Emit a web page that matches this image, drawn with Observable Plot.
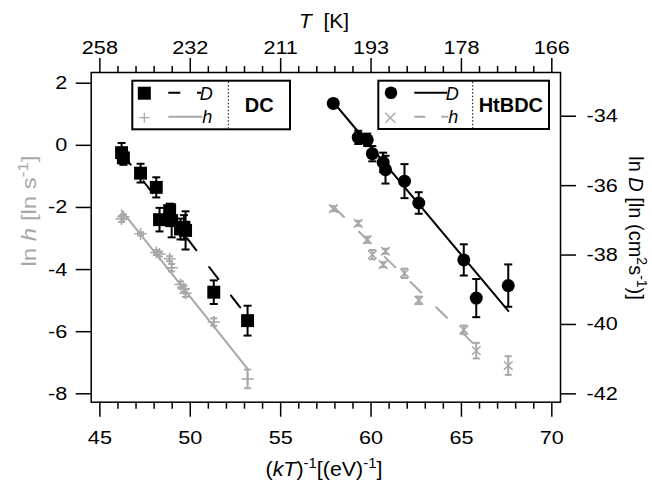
<!DOCTYPE html>
<html><head><meta charset="utf-8">
<script src="https://cdn.jsdelivr.net/npm/d3@7"></script>
<script src="https://cdn.jsdelivr.net/npm/@observablehq/plot@0.6"></script>
<style>
body{margin:0;background:#fff;}
#chart{position:relative;width:652px;height:480px;}
</style>
</head><body><div id="chart"></div>
<script>
// ---- tick values / labels ----
const xTicks = [45, 50, 55, 60, 65, 70];
const xMinor = [46,47,48,49,51,52,53,54,56,57,58,59,61,62,63,64,66,67,68,69];
const topTickLabels = ["258", "232", "211", "193", "178", "166"];
const hTicks = [2, 0, -2, -4, -6, -8];
const dTicks = [-34, -36, -38, -40, -42];

// ---- DC series ----
const dcX      = [46.2, 46.3, 47.25, 48.12, 48.3, 48.86, 48.97, 49.46, 49.65, 49.74, 51.3, 53.17];
const dcLnD    = [-35.05, -35.2, -35.64, -36.05, -36.98, -36.72, -37.01, -37.25, -37.2, -37.29, -39.07, -39.89];
const dcLnDErr = [0.28, 0.2, 0.27, 0.29, 0.34, 0.2, 0.48, 0.3, 0.35, 0.55, 0.34, 0.43];
const dcLnH    = [-2.37, -2.3, -2.85, -3.45, -3.5, -3.65, -3.94, -4.48, -4.62, -4.76, -5.69, -7.52];
const dcLnHErr = [0.1, 0.08, 0.05, 0.08, 0.08, 0.08, 0.12, 0.1, 0.1, 0.12, 0.12, 0.3];
const dcFitX   = [46.2, 53.17];
const dcFitD   = [-35.05, -39.79];
const dcFitH   = [-2.10, -7.2];

// ---- HtBDC series ----
const htX      = [57.91, 59.29, 59.79, 60.07, 60.67, 60.8, 61.85, 62.64, 65.13, 65.82, 67.59];
const htLnD    = [-33.63, -34.61, -34.68, -35.08, -35.33, -35.54, -35.87, -36.5, -38.14, -39.24, -38.88];
const htLnDErr = [0.12, 0.19, 0.18, 0.22, 0.28, 0.4, 0.49, 0.31, 0.45, 0.55, 0.61];
const htLnH    = [-2.04, -2.51, -3.04, -3.52, -3.84, -3.41, -4.12, -4.99, -5.94, -6.61, -7.09];
const htLnHErr = [0.08, 0.08, 0.1, 0.15, 0.08, 0.08, 0.15, 0.12, 0.14, 0.25, 0.3];
const htFitX   = [57.91, 67.59];
const htFitD   = [-33.59, -39.61];
const htFitHX  = [57.91, 66.45];
const htFitH   = [-1.97, -6.83];

// ---- scales ----
const hDomain = [-8.27, 2.345];
const dDomain = [-42.24, -32.74];
const k = (hDomain[1] - hDomain[0]) / (dDomain[1] - dDomain[0]);
const toY = D => hDomain[0] + (D - dDomain[0]) * k;
const fromY = y => dDomain[0] + (y - hDomain[0]) / k;

const GRAY = "#a8a8a8";
const FONT = "'Liberation Sans', Arial, sans-serif";
const capSymbol = { draw(ctx, size) { const r = Math.sqrt(size / Math.PI); ctx.moveTo(-r, 0); ctx.lineTo(r, 0); } };

const dc = dcX.map((x, i) => ({x, D: dcLnD[i], dE: dcLnDErr[i], h: dcLnH[i], hE: dcLnHErr[i]}));
const ht = htX.map((x, i) => ({x, D: htLnD[i], dE: htLnDErr[i], h: htLnH[i], hE: htLnHErr[i]}));
const dcFitDRows = dcFitX.map((x, i) => ({x, y: toY(dcFitD[i])}));
const dcFitHRows = dcFitX.map((x, i) => ({x, y: dcFitH[i]}));
const htFitDRows = htFitX.map((x, i) => ({x, y: toY(htFitD[i])}));
const htFitHRows = htFitHX.map((x, i) => ({x, y: htFitH[i]}));

function errMarks(data, val, err, color, capR, sw) {
  return [
    Plot.ruleX(data, {x: "x", y1: d => val(d) - err(d), y2: d => val(d) + err(d), stroke: color, strokeWidth: sw}),
    Plot.dot(data, {x: "x", y: d => val(d) - err(d), symbol: capSymbol, r: capR, stroke: color, strokeWidth: sw}),
    Plot.dot(data, {x: "x", y: d => val(d) + err(d), symbol: capSymbol, r: capR, stroke: color, strokeWidth: sw})
  ];
}

const chart = Plot.plot({
  width: 652, height: 480,
  marginLeft: 90.7, marginRight: 92, marginTop: 72, marginBottom: 78.3,
  style: {fontFamily: FONT, fontSize: "18.5px", color: "black", background: "white", overflow: "visible"},
  x: {domain: [44.52, 70.48]},
  y: {domain: hDomain},
  marks: [
    // h (gray) series
    Plot.line(dcFitHRows, {x: "x", y: "y", stroke: GRAY, strokeWidth: 2}),
    Plot.line(htFitHRows, {x: "x", y: "y", stroke: GRAY, strokeWidth: 2, strokeDasharray: "15,21"}),
    ...errMarks(dc, d => d.h, d => d.hE, GRAY, 3.5, 2),
    ...errMarks(ht, d => d.h, d => d.hE, GRAY, 3.5, 2),
    Plot.dot(dc, {x: "x", y: "h", symbol: "plus", r: 4, stroke: GRAY, strokeWidth: 1.5}),
    Plot.dot(ht, {x: "x", y: "h", symbol: "times", r: 4, stroke: GRAY, strokeWidth: 1.5}),
    // D (black) series
    Plot.line(dcFitDRows, {x: "x", y: "y", stroke: "black", strokeWidth: 2, strokeDasharray: "15,21"}),
    Plot.line(htFitDRows, {x: "x", y: "y", stroke: "black", strokeWidth: 2}),
    ...errMarks(dc, d => toY(d.D), d => d.dE * k, "black", 4, 2),
    ...errMarks(ht, d => toY(d.D), d => d.dE * k, "black", 4, 2),
    Plot.dot(dc, {x: "x", y: d => toY(d.D), symbol: "square", r: 7.3, fill: "black"}),
    Plot.dot(ht, {x: "x", y: d => toY(d.D), symbol: "circle", r: 6.5, fill: "black"}),
    // axes
    Plot.axisX(xTicks, {anchor: "bottom", tickSize: 15, tickPadding: 14, tickFormat: d => String(d), label: null, strokeWidth: 1.5}),
    Plot.axisX(xMinor, {anchor: "bottom", tickSize: 7, tickFormat: () => "", label: null, strokeWidth: 1.5}),
    Plot.axisX(xTicks, {anchor: "top", tickSize: 15, tickPadding: 4, tickFormat: d => topTickLabels[xTicks.indexOf(d)], label: null, strokeWidth: 1.5}),
    Plot.axisX(xMinor, {anchor: "top", tickSize: 7, tickFormat: () => "", label: null, strokeWidth: 1.5}),
    Plot.axisY(hTicks, {anchor: "left", tickSize: 15, tickPadding: 9, tickFormat: d => String(d), label: null, strokeWidth: 1.5}),
    Plot.axisY(dTicks.map(toY), {anchor: "right", tickSize: 15, tickPadding: 11, tickFormat: v => String(Math.round(fromY(v))), label: null, strokeWidth: 1.5}),
    Plot.frame({stroke: "black", strokeWidth: 1.5})
  ]
});
document.getElementById("chart").appendChild(chart);

// ---- widen tick labels (reference font is wide) ----
const svg = d3.select(chart);
svg.selectAll('g[aria-label*="tick label"] text').each(function () {
  const t = this.getAttribute("transform");
  if (t) this.setAttribute("transform", t + " scale(1.17,1)");
  else {
    const x = +this.getAttribute("x") || 0, y = +this.getAttribute("y") || 0;
    this.setAttribute("x", 0); this.setAttribute("y", 0);
    this.setAttribute("transform", `translate(${x},${y}) scale(1.17,1)`);
  }
});

// ---- titles and legends ----
function addText(g, parts, attrs) {
  const t = g.append("text").attr("font-family", FONT).attr("font-size", 17).style("white-space", "pre");
  Object.entries(attrs).forEach(([k, v]) => t.attr(k, v));
  parts.forEach(p => {
    const s = t.append("tspan").text(p.t);
    if (p.i) s.attr("font-style", "italic");
    if (p.b) s.attr("font-weight", "bold");
    if (p.dy) s.attr("dy", p.dy);
    if (p.fs) s.attr("font-size", p.fs);
  });
  return t;
}

// top title
addText(svg, [{t: "T", i: 1}, {t: "  [K]"}], {transform: "translate(324,28) scale(1.05,1)", "text-anchor": "middle", "font-size": 20});
// bottom title
addText(svg, [{t: "("}, {t: "kT", i: 1}, {t: ")"}, {t: "-1", fs: 14, dy: -8}, {t: "[(eV)", dy: 8}, {t: "-1", fs: 14, dy: -8}, {t: "]", dy: 8}],
  {transform: "translate(324,476) scale(1.07,1)", "text-anchor": "middle", "font-size": 20});
// left title (gray)
addText(svg, [{t: "ln "}, {t: "h", i: 1}, {t: " [ln s"}, {t: "-1", fs: 14, dy: -8}, {t: "]", dy: 8}],
  {transform: "translate(36,211) rotate(-90) scale(1.2,1)", "text-anchor": "middle", fill: GRAY, "font-size": 20});
// right title
addText(svg, [{t: "ln "}, {t: "D", i: 1}, {t: " [ln (cm"}, {t: "2", fs: 14, dy: -8}, {t: "s", dy: 8}, {t: "-1", fs: 14, dy: -8}, {t: ")]", dy: 8}],
  {transform: "translate(629,228) rotate(90)", "text-anchor": "middle", "font-size": 20});

function legend(x0, y0, w, h, divX, label, mkD, dDash, mkH, hDash) {
  const g = svg.append("g");
  g.append("rect").attr("x", x0).attr("y", y0).attr("width", w).attr("height", h)
    .attr("fill", "white").attr("stroke", "black").attr("stroke-width", 2);
  g.append("line").attr("x1", divX).attr("x2", divX).attr("y1", y0 + 1).attr("y2", y0 + h - 1)
    .attr("stroke", "black").attr("stroke-width", 1).attr("stroke-dasharray", "1.5,2");
  const sx = x0 + 12;
  mkD(g, sx, y0 + 12.5);
  mkH(g, sx, y0 + 37);
  g.append("line").attr("x1", x0 + 36).attr("x2", x0 + 69).attr("y1", y0 + 12).attr("y2", y0 + 12)
    .attr("stroke", "black").attr("stroke-width", 2).attr("stroke-dasharray", dDash);
  g.append("line").attr("x1", x0 + 36).attr("x2", x0 + 70).attr("y1", y0 + 36).attr("y2", y0 + 36)
    .attr("stroke", GRAY).attr("stroke-width", 2).attr("stroke-dasharray", hDash);
  addText(g, [{t: "D", i: 1}], {x: x0 + 74, y: y0 + 19.5, "font-size": 18});
  addText(g, [{t: "h", i: 1}], {x: x0 + 75, y: y0 + 42.5, "font-size": 18});
  addText(g, [{t: label, b: 1}], {x: (divX + x0 + w) / 2, y: y0 + 31, "text-anchor": "middle", "font-size": 20});
}
legend(132.3, 80.7, 157.7, 48.6, 228.3, "DC",
  (g, x, y) => g.append("rect").attr("x", x - 6.5).attr("y", y - 6.5).attr("width", 13).attr("height", 13).attr("fill", "black"),
  "12,16.7",
  (g, x, y) => g.append("path").attr("d", `M${x-5},${y}H${x+5}M${x},${y-5}V${y+5}`).attr("stroke", GRAY).attr("stroke-width", 1.3),
  null);
legend(378.3, 80.7, 170.7, 48.3, 472.7, "HtBDC",
  (g, x, y) => g.append("circle").attr("cx", x + 0.7).attr("cy", y - 0.5).attr("r", 6.3).attr("fill", "black"),
  null,
  (g, x, y) => g.append("path").attr("d", `M${x-5},${y-5}L${x+5},${y+5}M${x-5},${y+5}L${x+5},${y-5}`).attr("stroke", GRAY).attr("stroke-width", 1.3),
  "11,16");
</script>
</body></html>
